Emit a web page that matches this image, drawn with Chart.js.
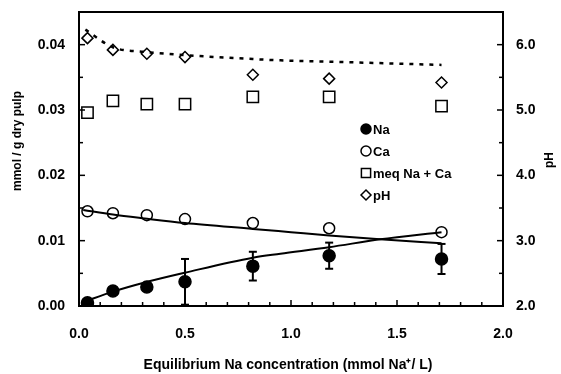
<!DOCTYPE html>
<html>
<head>
<meta charset="utf-8">
<script src="https://cdn.jsdelivr.net/npm/chart.js@4.4.1/dist/chart.umd.min.js"></script>
<style>
  html, body { margin: 0; padding: 0; background: #fff; }
  #wrap { width: 561px; height: 374px; position: relative; }
</style>
</head>
<body>
<div id="wrap"><canvas id="c" width="561" height="374"></canvas></div>
<script>
// Equilibrium Na concentration (mmol Na+/L) of each sample
const naConc = [0.04, 0.16, 0.32, 0.50, 0.82, 1.18, 1.71];

// Uptake (mmol / g dry pulp)
const naUptake  = [0.0005, 0.0023, 0.0029, 0.0037, 0.0061, 0.0077, 0.0072];
const naError   = [0.0000, 0.0000, 0.0000, 0.0035, 0.0022, 0.0020, 0.0023];
const caUptake  = [0.0145, 0.0142, 0.0139, 0.0133, 0.0127, 0.0119, 0.0113];
const meqTotal  = [0.0296, 0.0314, 0.0309, 0.0309, 0.0320, 0.0320, 0.0306];
const phValues  = [6.10, 5.92, 5.86, 5.81, 5.54, 5.48, 5.42];

// Fitted trend curves
const naFitX = [0.02, 0.16, 0.31, 0.50, 0.82, 0.95, 1.18, 1.42, 1.71];
const naFitY = [0.0006, 0.0022, 0.0036, 0.0051, 0.0074, 0.0080, 0.0090, 0.0102, 0.0113];
const caFitX = [0.02, 0.16, 0.31, 0.50, 0.82, 1.00, 1.18, 1.42, 1.71];
const caFitY = [0.0147, 0.0140, 0.0134, 0.0127, 0.0118, 0.0113, 0.0108, 0.0102, 0.0096];
const phFitX = [0.03, 0.16, 0.31, 0.50, 0.82, 0.95, 1.18, 1.71];
const phFitY = [6.23, 5.96, 5.89, 5.84, 5.78, 5.76, 5.74, 5.69];

// Axis ticks
const xMajor = [0, 0.5, 1.0, 1.5, 2.0];
const xMinor = [0.1, 0.2, 0.3, 0.4, 0.6, 0.7, 0.8, 0.9, 1.1, 1.2, 1.3, 1.4, 1.6, 1.7, 1.8, 1.9];
const yMajor = [0, 0.01, 0.02, 0.03, 0.04];
const yMinor = [0.005, 0.015, 0.025, 0.035];
const phMajor = [2, 3, 4, 5, 6];
const phMinor = [2.5, 3.5, 4.5, 5.5];

const FONT = "'Liberation Sans', Arial, sans-serif";

const pts = (xs, ys) => xs.map((x, i) => ({ x: x, y: ys[i] }));

// Tick marks pointing into the plot, the box top edge, error bars, titles and legend
const decorations = {
  id: 'decorations',
  afterDatasetsDraw(chart) {
    const ctx = chart.ctx;
    const a = chart.chartArea;
    const sx = chart.scales.x, sy = chart.scales.y, sp = chart.scales.ph;
    ctx.save();
    ctx.strokeStyle = '#000';
    ctx.fillStyle = '#000';

    // top edge of the frame
    ctx.lineWidth = 2;
    ctx.beginPath();
    ctx.moveTo(a.left, a.top);
    ctx.lineTo(a.right, a.top);
    ctx.stroke();

    // inward tick marks
    ctx.lineWidth = 1.5;
    const tick = (x1, y1, x2, y2) => { ctx.beginPath(); ctx.moveTo(x1, y1); ctx.lineTo(x2, y2); ctx.stroke(); };
    xMajor.forEach(v => { const p = sx.getPixelForValue(v); tick(p, a.bottom, p, a.bottom - 6); });
    xMinor.forEach(v => { const p = sx.getPixelForValue(v); tick(p, a.bottom, p, a.bottom - 4); });
    yMajor.forEach(v => { const p = sy.getPixelForValue(v); tick(a.left, p, a.left + 6, p); });
    yMinor.forEach(v => { const p = sy.getPixelForValue(v); tick(a.left, p, a.left + 4, p); });
    phMajor.forEach(v => { const p = sp.getPixelForValue(v); tick(a.right, p, a.right - 6, p); });
    phMinor.forEach(v => { const p = sp.getPixelForValue(v); tick(a.right, p, a.right - 4, p); });

    // error bars on Na uptake
    ctx.lineWidth = 2;
    naConc.forEach((x, i) => {
      if (!naError[i]) return;
      const px = sx.getPixelForValue(x);
      const top = sy.getPixelForValue(naUptake[i] + naError[i]);
      const bot = sy.getPixelForValue(naUptake[i] - naError[i]);
      tick(px, top, px, bot);
      tick(px - 4, top, px + 4, top);
      tick(px - 4, bot, px + 4, bot);
    });

    // axis titles
    ctx.textAlign = 'center';
    ctx.textBaseline = 'middle';
    ctx.font = "bold 14px " + FONT;
    ctx.fillText('Equilibrium Na concentration (mmol Na\u207A/ L)', 288, 365);
    ctx.font = "bold 12px " + FONT;
    ctx.save();
    ctx.translate(18, 141);
    ctx.rotate(-Math.PI / 2);
    ctx.fillText('mmol / g dry pulp', 0, 0);
    ctx.restore();
    ctx.save();
    ctx.translate(550, 160);
    ctx.rotate(-Math.PI / 2);
    ctx.fillText('pH', 0, 0);
    ctx.restore();

    // legend
    const items = [
      { label: 'Na', style: 'circle', fill: true },
      { label: 'Ca', style: 'circle', fill: false },
      { label: 'meq Na + Ca', style: 'rect', fill: false },
      { label: 'pH', style: 'rectRot', fill: false }
    ];
    ctx.textAlign = 'left';
    ctx.font = "bold 13px " + FONT;
    items.forEach((it, i) => {
      const y = 129 + i * 22;
      const x = 366;
      ctx.lineWidth = 1.5;
      ctx.fillStyle = it.fill ? '#000' : '#fff';
      Chart.helpers.drawPoint(ctx, { pointStyle: it.style, radius: it.style === 'rect' ? 6.5 : 5, rotation: 0, borderWidth: 1.5 }, x, y);
      if (it.fill) ctx.fill();
      ctx.fillStyle = '#000';
      ctx.fillText(it.label, x + 7, y + 1);
    });
    ctx.restore();
  }
};

const markerCommon = { showLine: false, borderColor: '#000', borderWidth: 1.5 };

const noVerticalPad = s => { s.paddingTop = 0; s.paddingBottom = 0; };

new Chart(document.getElementById('c'), {
  type: 'scatter',
  data: {
    datasets: [
      { label: 'Na fit', data: pts(naFitX, naFitY), showLine: true, cubicInterpolationMode: 'monotone',
        borderColor: '#000', borderWidth: 2, pointRadius: 0, yAxisID: 'y' },
      { label: 'Ca fit', data: pts(caFitX, caFitY), showLine: true, cubicInterpolationMode: 'monotone',
        borderColor: '#000', borderWidth: 2, pointRadius: 0, yAxisID: 'y' },
      { label: 'pH fit', data: pts(phFitX, phFitY), showLine: true, cubicInterpolationMode: 'monotone',
        borderColor: '#000', borderWidth: 2.5, borderDash: [4, 6], pointRadius: 0, yAxisID: 'ph' },
      Object.assign({ label: 'Na', data: pts(naConc, naUptake), pointStyle: 'circle', pointRadius: 6,
        backgroundColor: '#000', yAxisID: 'y' }, markerCommon),
      Object.assign({ label: 'Ca', data: pts(naConc, caUptake), pointStyle: 'circle', pointRadius: 5.5,
        backgroundColor: '#fff', yAxisID: 'y' }, markerCommon),
      Object.assign({ label: 'meq Na + Ca', data: pts(naConc, meqTotal), pointStyle: 'rect', pointRadius: 8,
        backgroundColor: '#fff', yAxisID: 'y' }, markerCommon),
      Object.assign({ label: 'pH', data: pts(naConc, phValues), pointStyle: 'rectRot', pointRadius: 5.5,
        backgroundColor: '#fff', yAxisID: 'ph' }, markerCommon)
    ]
  },
  options: {
    responsive: false,
    animation: false,
    devicePixelRatio: 1,
    layout: { padding: { top: 12, left: 0, right: 0, bottom: 0 } },
    plugins: { legend: { display: false }, tooltip: { enabled: false } },
    elements: { point: { hoverRadius: 6 } },
    scales: {
      x: {
        type: 'linear', min: 0, max: 2,
        grid: { display: false, drawTicks: false },
        border: { display: true, color: '#000', width: 2 },
        afterBuildTicks: s => { s.ticks = xMajor.map(v => ({ value: v })); },
        afterFit: s => { s.height = 68; s.paddingLeft = 0; s.paddingRight = 0; },
        ticks: { padding: 20, color: '#000', font: { family: FONT, size: 14, weight: 'bold' },
          callback: v => Number(v).toFixed(1) }
      },
      y: {
        type: 'linear', position: 'left', min: 0, max: 0.045,
        grid: { display: false, drawTicks: false },
        border: { display: true, color: '#000', width: 2 },
        afterBuildTicks: s => { s.ticks = yMajor.map(v => ({ value: v })); },
        afterFit: s => { s.width = 79; noVerticalPad(s); },
        ticks: { padding: 14, color: '#000', font: { family: FONT, size: 14, weight: 'bold' },
          callback: v => Number(v).toFixed(2) }
      },
      ph: {
        type: 'linear', position: 'right', min: 2, max: 6.5,
        grid: { display: false, drawTicks: false },
        border: { display: true, color: '#000', width: 2 },
        afterBuildTicks: s => { s.ticks = phMajor.map(v => ({ value: v })); },
        afterFit: s => { s.width = 58; noVerticalPad(s); },
        ticks: { padding: 13, color: '#000', font: { family: FONT, size: 14, weight: 'bold' },
          callback: v => Number(v).toFixed(1) }
      }
    }
  },
  plugins: [decorations]
});
</script>
</body>
</html>
